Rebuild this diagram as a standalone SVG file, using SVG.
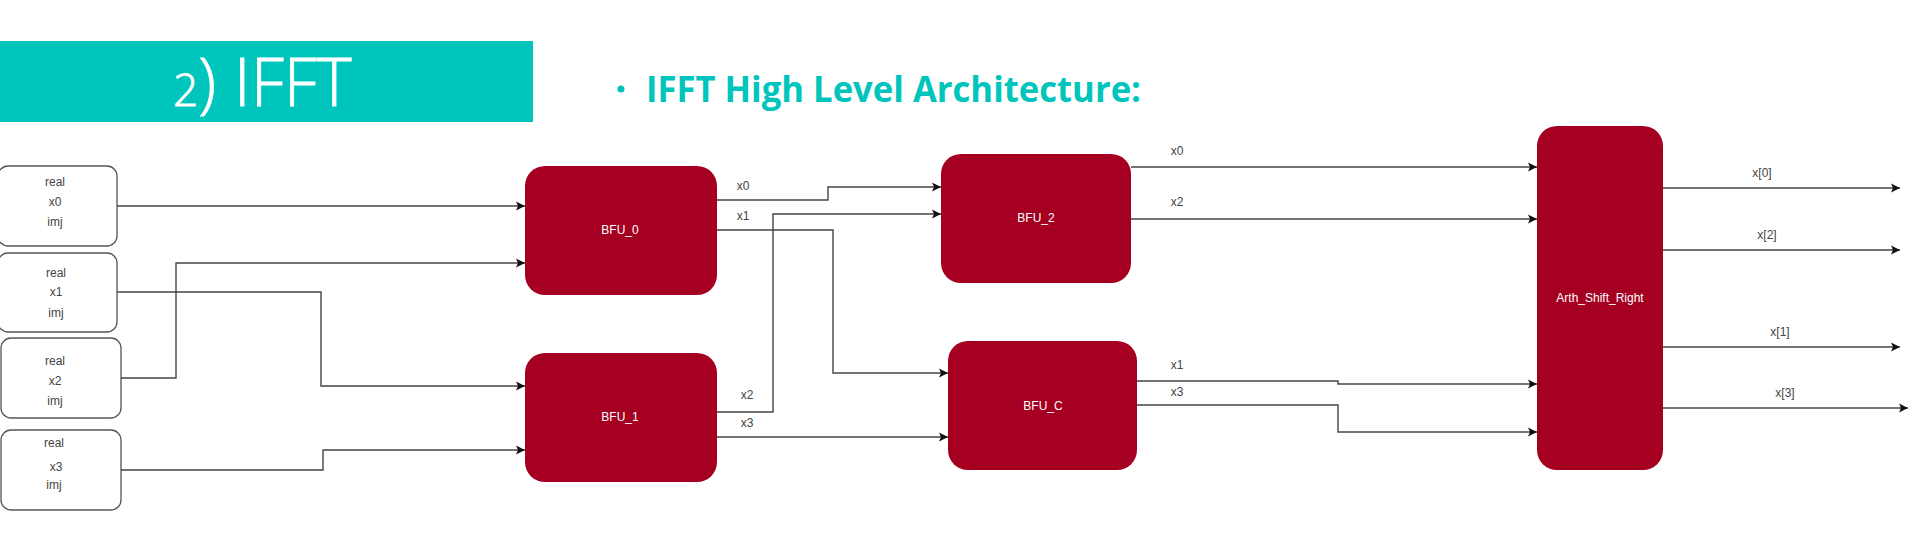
<svg xmlns="http://www.w3.org/2000/svg" width="1911" height="543" viewBox="0 0 1911 543">
<style>
.in{fill:#fff;stroke:#555;stroke-width:1.3}
.bfu{fill:#A50021}
.t{font-family:"Liberation Sans",Arial,sans-serif;font-size:12px;fill:#444;text-anchor:middle}
.w{font-family:"Liberation Sans",Arial,sans-serif;font-size:12px;fill:#fff;text-anchor:middle}
.c{fill:none;stroke:#444;stroke-width:1.4}
</style>
<defs>
<marker id="ah" markerUnits="userSpaceOnUse" markerWidth="11" markerHeight="11" refX="10" refY="5.5" orient="auto">
<path d="M1,1 L10,5.5 L1,10 L3,5.5 z" fill="#111"/>
</marker>
</defs>
<rect width="1911" height="543" fill="#fff"/>
<g id="title">
<rect x="0" y="41" width="533" height="81" fill="#00C5BD"/>
<text x="173" y="106" font-family="'Open Sans','Noto Sans',sans-serif" font-weight="300" font-size="66" fill="#fff" stroke="#fff" stroke-width="0.8"><tspan font-size="44">2</tspan>)<tspan x="234">IFFT</tspan></text>
</g>
<g id="subtitle">
<circle cx="621" cy="89" r="3.5" fill="#00C5BD"/>
<text x="646" y="102" font-family="'Open Sans','Noto Sans',sans-serif" font-weight="bold" font-size="35" fill="#00C5BD" textLength="495" lengthAdjust="spacingAndGlyphs">IFFT High Level Architecture:</text>
</g>
<g id="in_x0">
<rect class="in" x="-2" y="166" width="119" height="80" rx="10"/>
<text class="t" x="55" y="186">real</text><text class="t" x="55" y="206">x0</text><text class="t" x="55" y="226">imj</text>
</g>
<g id="in_x1">
<rect class="in" x="-2" y="253" width="119" height="79" rx="10"/>
<text class="t" x="56" y="277">real</text><text class="t" x="56" y="296">x1</text><text class="t" x="56" y="317">imj</text>
</g>
<g id="in_x2">
<rect class="in" x="1" y="338" width="120" height="80" rx="10"/>
<text class="t" x="55" y="365">real</text><text class="t" x="55" y="385">x2</text><text class="t" x="55" y="405">imj</text>
</g>
<g id="in_x3">
<rect class="in" x="1" y="430" width="120" height="80" rx="10"/>
<text class="t" x="54" y="447">real</text><text class="t" x="56" y="471">x3</text><text class="t" x="54" y="489">imj</text>
</g>
<g id="bfu0">
<rect class="bfu" x="525" y="166" width="192" height="129" rx="20"/>
<text class="w" x="620" y="234">BFU_0</text>
</g>
<g id="bfu1">
<rect class="bfu" x="525" y="353" width="192" height="129" rx="20"/>
<text class="w" x="620" y="421">BFU_1</text>
</g>
<g id="bfu2">
<rect class="bfu" x="941" y="154" width="190" height="129" rx="20"/>
<text class="w" x="1036" y="222">BFU_2</text>
</g>
<g id="bfuc">
<rect class="bfu" x="948" y="341" width="189" height="129" rx="20"/>
<text class="w" x="1043" y="410">BFU_C</text>
</g>
<g id="asr">
<rect class="bfu" x="1537" y="126" width="126" height="344" rx="20"/>
<text class="w" x="1600" y="302">Arth_Shift_Right</text>
</g>
<g id="connectors">
<path class="c" marker-end="url(#ah)" d="M117,206 H525"/>
<path class="c" marker-end="url(#ah)" d="M121,378 H176 V263 H525"/>
<path class="c" marker-end="url(#ah)" d="M117,292 H321 V386 H525"/>
<path class="c" marker-end="url(#ah)" d="M121,470 H323 V450 H525"/>
<path class="c" marker-end="url(#ah)" d="M717,200 H828 V187 H941"/>
<path class="c" marker-end="url(#ah)" d="M717,230 H833 V373 H948"/>
<path class="c" marker-end="url(#ah)" d="M717,412 H773 V214 H941"/>
<path class="c" marker-end="url(#ah)" d="M717,437 H948"/>
<path class="c" marker-end="url(#ah)" d="M1131,167 H1537"/>
<path class="c" marker-end="url(#ah)" d="M1131,219 H1537"/>
<path class="c" marker-end="url(#ah)" d="M1137,381 H1338 V384 H1537"/>
<path class="c" marker-end="url(#ah)" d="M1137,405 H1338 V432 H1537"/>
<path class="c" marker-end="url(#ah)" d="M1663,188 H1900"/>
<path class="c" marker-end="url(#ah)" d="M1663,250 H1900"/>
<path class="c" marker-end="url(#ah)" d="M1663,347 H1900"/>
<path class="c" marker-end="url(#ah)" d="M1663,408 H1908"/>
<text class="t" x="743" y="190">x0</text>
<text class="t" x="743" y="220">x1</text>
<text class="t" x="747" y="399">x2</text>
<text class="t" x="747" y="427">x3</text>
<text class="t" x="1177" y="155">x0</text>
<text class="t" x="1177" y="206">x2</text>
<text class="t" x="1177" y="369">x1</text>
<text class="t" x="1177" y="396">x3</text>
<text class="t" x="1762" y="177">x[0]</text>
<text class="t" x="1767" y="239">x[2]</text>
<text class="t" x="1780" y="336">x[1]</text>
<text class="t" x="1785" y="397">x[3]</text>
</g>
</svg>
